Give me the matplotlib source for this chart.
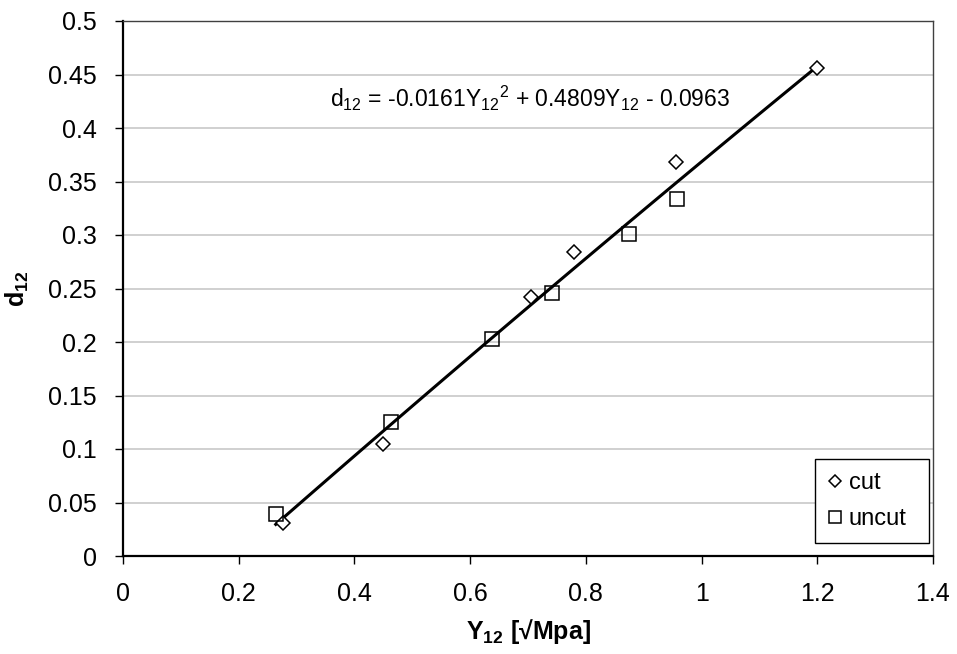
import numpy as np
import matplotlib.pyplot as plt

plt.rcParams['font.family'] = ['Liberation Sans', 'DejaVu Sans']
plt.rcParams['mathtext.fontset'] = 'custom'
plt.rcParams['mathtext.rm'] = 'Liberation Sans'
plt.rcParams['mathtext.it'] = 'Liberation Sans:italic'
plt.rcParams['mathtext.bf'] = 'Liberation Sans:bold'

cut_x = [0.277, 0.450, 0.706, 0.780, 0.956, 1.200]
cut_y = [0.031, 0.105, 0.242, 0.284, 0.368, 0.456]
uncut_x = [0.264, 0.464, 0.638, 0.742, 0.875, 0.958]
uncut_y = [0.039, 0.125, 0.203, 0.246, 0.301, 0.334]
trend_coef = [-0.0161, 0.4809, -0.0963]
x_ticks = [0, 0.2, 0.4, 0.6, 0.8, 1, 1.2, 1.4]
y_ticks = [0, 0.05, 0.1, 0.15, 0.2, 0.25, 0.3, 0.35, 0.4, 0.45, 0.5]

fig = plt.figure(figsize=(9.57, 6.54), dpi=100)
ax = fig.add_axes([123 / 957, 1 - 556 / 654, 810 / 957, 535 / 654])

all_x = cut_x + uncut_x
xs = np.linspace(min(all_x), max(all_x), 100)
ax.plot(xs, np.polyval(trend_coef, xs), color='black', lw=2.2, zorder=2)

ax.plot(cut_x, cut_y, 'D', ms=6.8, mfc='white', mec='black', mew=1.1,
        label='cut', zorder=3)
ax.plot(uncut_x, uncut_y, 's', ms=9.6, mfc='none', mec='black', mew=1.1,
        label='uncut', zorder=3)

ax.set_xlim(0, 1.4)
ax.set_ylim(0, 0.5)
ax.set_xticks(x_ticks)
ax.set_yticks(y_ticks)
ax.set_xticklabels([f'{v:g}' for v in x_ticks])
ax.set_yticklabels([f'{v:g}' for v in y_ticks])
ax.tick_params(labelsize=18, length=6, width=1, direction='out')
ax.tick_params(axis='x', pad=13)
ax.tick_params(axis='y', pad=13)
ax.yaxis.grid(True, color='#c8c8c8', lw=1.2)
ax.set_axisbelow(True)
for side in ['left', 'bottom']:
    ax.spines[side].set_linewidth(1.6)
for side in ['top', 'right']:
    ax.spines[side].set_linewidth(1.0)
    ax.spines[side].set_color('#404040')

ax.set_xlabel(r'Y$_{\mathbf{12}}$ [√Mpa]', fontsize=18, fontweight='bold', labelpad=8)
ax.set_ylabel(r'd$_{\mathbf{12}}$', fontsize=18, fontweight='bold', labelpad=12)

ax.text(0.358, 0.42,
        r'd$_{12}$ = -0.0161Y$_{12}$${}^{2}$ + 0.4809Y$_{12}$ - 0.0963',
        fontsize=16.5, va='baseline', ha='left')

leg = ax.legend(loc='lower left', bbox_to_anchor=(0.854, 0.024, 0.141, 0.144),
                mode='expand', borderaxespad=0, fontsize=17,
                frameon=True, fancybox=False, edgecolor='black', framealpha=1,
                handlelength=0.6, handletextpad=0.3, borderpad=0.55,
                labelspacing=0.6, markerscale=0.85)
leg.get_frame().set_linewidth(1.0)

fig.savefig('out.png', dpi=100)
